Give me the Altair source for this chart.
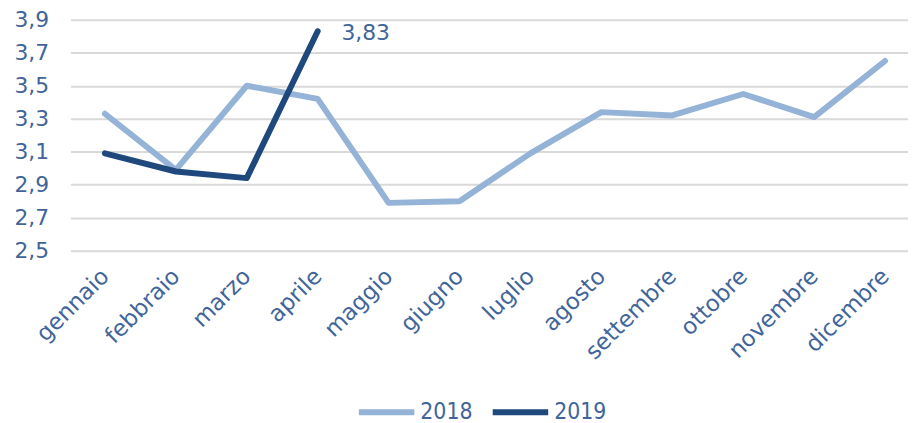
import altair as alt
import pandas as pd

months = ["gennaio", "febbraio", "marzo", "aprile", "maggio", "giugno",
          "luglio", "agosto", "settembre", "ottobre", "novembre", "dicembre"]
values_2018 = [3.33, 2.99, 3.50, 3.42, 2.79, 2.80, 3.09, 3.34, 3.32, 3.45, 3.31, 3.65]
values_2019 = [3.09, 2.98, 2.94, 3.83]
series = ["2018", "2019"]
colors = ["#95B3D7", "#1F497D"]
y_ticks = [2.5, 2.7, 2.9, 3.1, 3.3, 3.5, 3.7, 3.9]

rows = []
for m, v in zip(months, values_2018):
    rows.append({"mese": m, "anno": "2018", "valore": v, "ultimo": False})
for i, (m, v) in enumerate(zip(months, values_2019)):
    rows.append({"mese": m, "anno": "2019", "valore": v,
                 "ultimo": i == len(values_2019) - 1})
df = pd.DataFrame(rows)

TXT = "#41659A"
FONT = "DejaVu Sans"

x_scale = alt.Scale(type="point", padding=0.405, align=0.6)
y_scale = alt.Scale(domain=[2.5, 3.9], nice=False, zero=False)

x_enc = alt.X("mese:N", sort=months, scale=x_scale,
              axis=alt.Axis(title=None, labelAngle=-45, labelAlign="right",
                            labelBaseline="middle", labelPadding=22,
                            labelFontSize=23, labelFont=FONT, labelColor=TXT,
                            labelOverlap=False, labelBound=False, labelFlush=False,
                            domain=False, ticks=False, grid=False))
y_enc = alt.Y("valore:Q", scale=y_scale,
              axis=alt.Axis(title=None, values=y_ticks,
                            labelExpr="replace(format(datum.value, '.1f'), '.', ',')",
                            labelFontSize=22, labelFont=FONT, labelColor=TXT,
                            labelOverlap=False, labelBound=False, labelFlush=False,
                            labelPadding=22, domain=False, ticks=False,
                            grid=True, gridColor="#D9D9D9", gridWidth=2))

base = alt.Chart(df).encode(x=x_enc, y=y_enc)

lines = base.mark_line(strokeWidth=6, strokeCap="round", strokeJoin="round").encode(
    color=alt.Color("anno:N", scale=alt.Scale(domain=series, range=colors),
                    legend=alt.Legend(title=None, orient="none", direction="horizontal",
                                      legendX=288, legendY=365,
                                      symbolType="stroke", symbolSize=3136,
                                      symbolStrokeWidth=6, labelFontSize=23,
                                      labelFont="DejaVu Sans Condensed", labelColor=TXT,
                                      labelOffset=3, columnPadding=8)),
)

label = base.transform_filter("datum.ultimo").transform_calculate(
    testo="replace(format(datum.valore, '.2f'), '.', ',')"
).mark_text(align="left", baseline="middle", dx=24, dy=2, fontSize=22,
            font=FONT, color=TXT).encode(text="testo:N")

chart = alt.layer(lines, label).properties(
    width=845, height=233,
    autosize=alt.AutoSizeParams(type="none"),
    padding={"left": 63, "top": 10, "right": 0, "bottom": 172},
).configure_view(stroke=None)

chart.save("out.html", embed_options={"renderer": "svg", "actions": False})
